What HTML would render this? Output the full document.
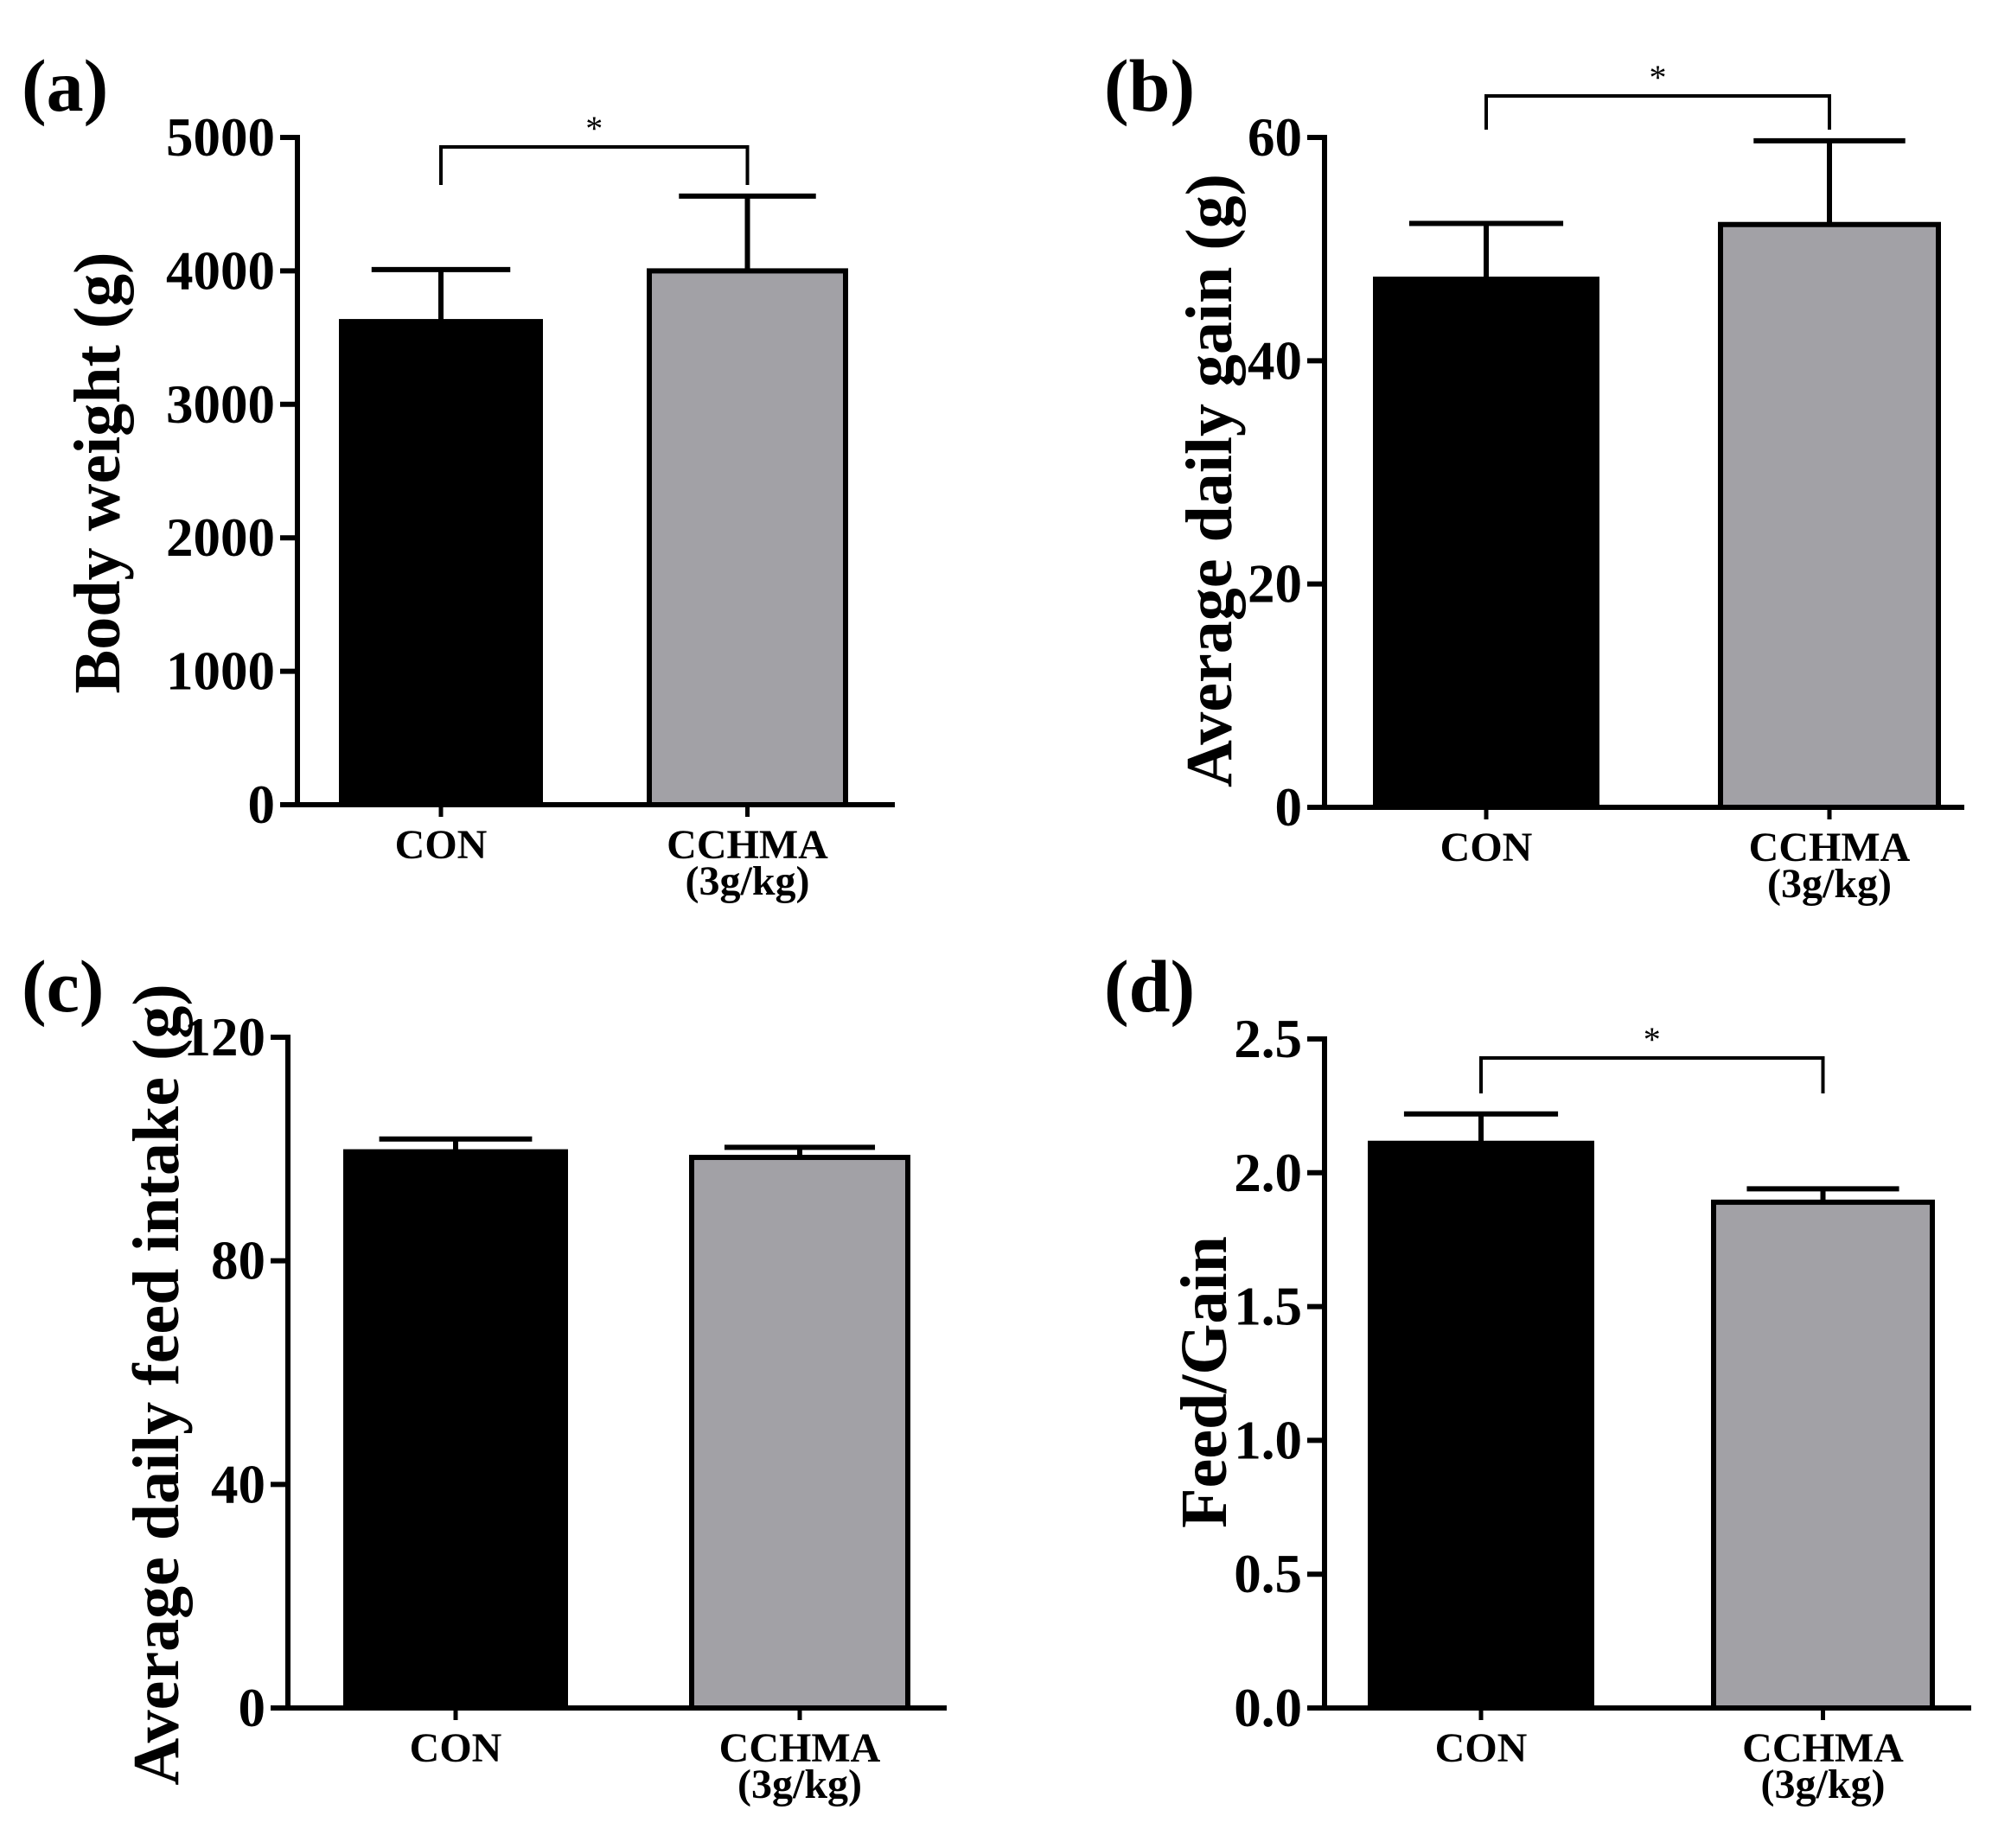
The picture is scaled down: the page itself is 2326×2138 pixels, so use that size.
<!DOCTYPE html>
<html><head><meta charset="utf-8"><style>
html,body{margin:0;padding:0;background:#fff;}
svg{display:block;font-family:"Liberation Serif",serif;font-weight:bold;}
</style></head><body>
<svg id="fig" width="2326" height="2138" viewBox="0 0 2326 2138" xmlns="http://www.w3.org/2000/svg"></svg>
<script>
const categories = ["CON", "CCHMA"];
const aMeans = [3620, 4000];
const aErr = [4010, 4560];
const aTicks = [0, 1000, 2000, 3000, 4000, 5000];
const bMeans = [47.3, 52.2];
const bErr = [52.3, 59.7];
const bTicks = [0, 20, 40, 60];
const cMeans = [99.5, 98.5];
const cErr = [101.8, 100.3];
const cTicks = [0, 40, 80, 120];
const dMeans = [2.11, 1.89];
const dErr = [2.22, 1.94];
const dTicks = ["0.0", "0.5", "1.0", "1.5", "2.0", "2.5"];

const NS = "http://www.w3.org/2000/svg";
const svg = document.getElementById("fig");
function mk(tag, attrs, parent, text) {
  const e = document.createElementNS(NS, tag);
  for (const k in attrs) e.setAttribute(k, attrs[k]);
  if (text !== undefined) e.textContent = text;
  (parent || svg).appendChild(e);
  return e;
}

function panel(cfg) {
  const g = mk("g", {});
  
  
  const ticksNum = cfg.ticks.map(Number);
  const ymax = ticksNum[ticksNum.length - 1];
  const y = v => cfg.y0 - (v / ymax) * (cfg.y0 - cfg.yTop);
  const pl = mk("text", {x: cfg.lx, y: cfg.ly, "font-size": 86}, g, "(" + cfg.id + ")");
  
  
  cfg.means.forEach((m, i) => {
    const [l, r] = cfg.bars[i];
    const cx = (l + r) / 2;
    const hw = (r - l) * 0.34;
    const el = mk("line", {x1: cx, x2: cx, y1: y(m), y2: y(cfg.err[i]), stroke: "#000", "stroke-width": 6}, g);
    
    
    const cap = mk("line", {x1: cx - hw, x2: cx + hw, y1: y(cfg.err[i]), y2: y(cfg.err[i]), stroke: "#000", "stroke-width": 6}, g);
    
    
    const b = mk("rect", {x: l + 3, y: y(m), width: r - l - 6, height: cfg.y0 - y(m), fill: i === 0 ? "#000" : "#a2a1a6", stroke: "#000", "stroke-width": 6}, g);
    
    
    const xt = mk("line", {x1: cx, x2: cx, y1: cfg.y0, y2: cfg.y0 + 14, stroke: "#000", "stroke-width": 5}, g);
    
    
    const lab = mk("text", {x: cx, y: cfg.y0 + 62, "text-anchor": "middle", "font-size": 48}, g, categories[i]);
    
    
    if (i === 1) {
      const sub = mk("text", {x: cx, y: cfg.y0 + 104, "text-anchor": "middle", "font-size": 48}, g, "(3g/kg)");
      
      
    }
  });
  const ya = mk("line", {x1: cfg.ax, x2: cfg.ax, y1: cfg.yTop - 3, y2: cfg.y0 + 3, stroke: "#000", "stroke-width": 6}, g);
  
  
  const xa = mk("line", {x1: cfg.ax - 20, x2: cfg.xEnd, y1: cfg.y0, y2: cfg.y0, stroke: "#000", "stroke-width": 6}, g);
  
  
  cfg.ticks.forEach((t, k) => {
    const yy = y(ticksNum[k]);
    const tl = mk("line", {x1: cfg.ax - 20, x2: cfg.ax, y1: yy, y2: yy, stroke: "#000", "stroke-width": 6}, g);
    
    
    const tx = mk("text", {x: cfg.ax - 26, y: yy + 21, "text-anchor": "end", "font-size": 63}, g, String(t));
    
    
  });
  const yt = mk("text", {x: 0, y: 0, "text-anchor": "middle", "font-size": cfg.tfs, transform: `translate(${cfg.tx},${cfg.ty}) rotate(-90)`}, g, cfg.title);
  
  
  if (cfg.sig) {
    const c0 = (cfg.bars[0][0] + cfg.bars[0][1]) / 2, c1 = (cfg.bars[1][0] + cfg.bars[1][1]) / 2;
    const s = cfg.sig;
    const br = mk("polyline", {points: `${c0},${s.bot} ${c0},${s.top} ${c1},${s.top} ${c1},${s.bot}`, fill: "none", stroke: "#000", "stroke-width": 4}, g);
    
    
    const st = mk("text", {x: (c0 + c1) / 2, y: s.top - 8, "text-anchor": "middle", "font-size": 40, "font-weight": "normal"}, g, "*");
    
    
  }
}

panel({id: "a", means: aMeans, err: aErr, ticks: aTicks, ax: 344, yTop: 159, y0: 931, xEnd: 1035,
  bars: [[392, 628], [748, 981]], lx: 25, ly: 128, title: "Body weight (g)", tfs: 76, tx: 138, ty: 547,
  sig: {top: 170, bot: 214}});
panel({id: "b", means: bMeans, err: bErr, ticks: bTicks, ax: 1532, yTop: 159, y0: 934, xEnd: 2272,
  bars: [[1588, 1850], [1987, 2245]], lx: 1277, ly: 128, title: "Average daily gain (g)", tfs: 76, tx: 1424, ty: 556,
  sig: {top: 111, bot: 150}});
panel({id: "c", means: cMeans, err: cErr, ticks: cTicks, ax: 333, yTop: 1200, y0: 1976, xEnd: 1095,
  bars: [[397, 657], [797, 1053]], lx: 25, ly: 1170, title: "Average daily feed intake (g)", tfs: 76, tx: 206, ty: 1602});
panel({id: "d", means: dMeans, err: dErr, ticks: dTicks, ax: 1532, yTop: 1202, y0: 1976, xEnd: 2280,
  bars: [[1582, 1844], [1979, 2238]], lx: 1277, ly: 1170, title: "Feed/Gain", tfs: 76, tx: 1418, ty: 1599,
  sig: {top: 1224, bot: 1265}});
</script>
</body></html>
